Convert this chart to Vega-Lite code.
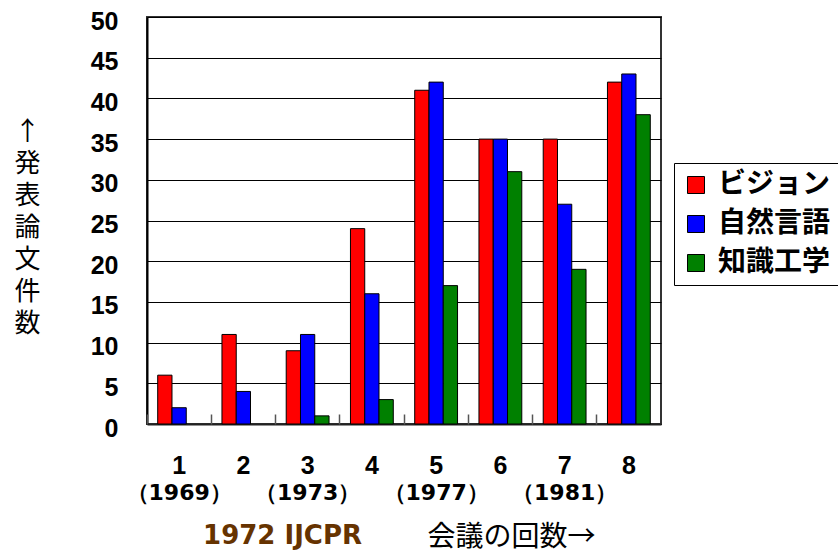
{
  "$schema": "https://vega.github.io/schema/vega-lite/v6.json",
  "width": 514,
  "height": 407,
  "autosize": {"type": "none"},
  "padding": {"left": 147, "top": 17, "right": 177, "bottom": 131},
  "background": "white",
  "config": {
    "view": {"stroke": "#333", "strokeWidth": 2},
    "axis": {"grid": false}
  },
  "data": {
    "values": [
      {"kai": 1, "series": "ビジョン", "count": 6},
      {"kai": 1, "series": "自然言語", "count": 2},
      {"kai": 2, "series": "ビジョン", "count": 11},
      {"kai": 2, "series": "自然言語", "count": 4},
      {"kai": 3, "series": "ビジョン", "count": 9},
      {"kai": 3, "series": "自然言語", "count": 11},
      {"kai": 3, "series": "知識工学", "count": 1},
      {"kai": 4, "series": "ビジョン", "count": 24},
      {"kai": 4, "series": "自然言語", "count": 16},
      {"kai": 4, "series": "知識工学", "count": 3},
      {"kai": 5, "series": "ビジョン", "count": 41},
      {"kai": 5, "series": "自然言語", "count": 42},
      {"kai": 5, "series": "知識工学", "count": 17},
      {"kai": 6, "series": "ビジョン", "count": 35},
      {"kai": 6, "series": "自然言語", "count": 35},
      {"kai": 6, "series": "知識工学", "count": 31},
      {"kai": 7, "series": "ビジョン", "count": 35},
      {"kai": 7, "series": "自然言語", "count": 27},
      {"kai": 7, "series": "知識工学", "count": 19},
      {"kai": 8, "series": "ビジョン", "count": 42},
      {"kai": 8, "series": "自然言語", "count": 43},
      {"kai": 8, "series": "知識工学", "count": 38}
    ]
  },
  "resolve": {"axis": {"x": "independent"}},
  "layer": [
    {
      "mark": {"type": "bar", "stroke": "black", "strokeWidth": 1},
      "encoding": {
        "x": {
          "field": "kai",
          "type": "ordinal",
          "scale": {"paddingInner": 0, "paddingOuter": 0},
          "axis": {
            "labelAngle": 0,
            "labelFont": "Liberation Sans",
            "labelFontWeight": "bold",
            "labelFontSize": 25,
            "labelColor": "black",
            "labelPadding": 29,
            "ticks": false,
            "domainColor": "#222",
            "domainWidth": 2,
            "grid": false,
            "title": "1972 IJCPR",
            "titleFont": "DejaVu Sans",
            "titleFontWeight": "bold",
            "titleFontSize": 26,
            "titleColor": "#663300",
            "titleX": 135,
            "titleY": 111,
            "titleBaseline": "middle",
            "titleAlign": "center"
          }
        },
        "xOffset": {
          "field": "series",
          "type": "nominal",
          "sort": ["ビジョン", "自然言語", "知識工学"],
          "scale": {"domain": ["ビジョン", "自然言語", "知識工学"], "paddingOuter": 0.75, "paddingInner": 0}
        },
        "y": {
          "field": "count",
          "type": "quantitative",
          "scale": {"domain": [0, 50], "nice": false},
          "axis": {
            "values": [0, 5, 10, 15, 20, 25, 30, 35, 40, 45, 50],
            "grid": true,
            "gridColor": "black",
            "gridWidth": 1,
            "gridOpacity": 1,
            "ticks": false,
            "domainColor": "black",
            "domainWidth": 2,
            "labelFont": "Liberation Sans",
            "labelFontWeight": "bold",
            "labelFontSize": 25,
            "labelColor": "black",
            "labelPadding": 29,
            "labelOffset": 4,
            "title": ["↑", "発", "表", "論", "文", "件", "数"],
            "titleFont": "Noto Sans CJK JP",
            "titleFontWeight": "normal",
            "titleFontSize": 26,
            "titleLineHeight": 32,
            "titleAngle": 0,
            "titleAlign": "center",
            "titleBaseline": "top",
            "titleX": -120,
            "titleY": 101,
            "titleColor": "black"
          }
        },
        "color": {
          "field": "series",
          "type": "nominal",
          "scale": {
            "domain": ["ビジョン", "自然言語", "知識工学"],
            "range": ["#FF0000", "#0000FF", "#008000"]
          },
          "legend": {
            "title": null,
            "orient": "none",
            "legendX": 527,
            "legendY": 146,
            "strokeColor": "black",
            "fillColor": "white",
            "padding": 8,
            "symbolType": "square",
            "symbolSize": 289,
            "symbolStrokeColor": "black",
            "symbolStrokeWidth": 1,
            "symbolOpacity": 1,
            "labelFont": "Noto Sans CJK JP",
            "labelFontWeight": "bold",
            "labelFontSize": 28,
            "labelColor": "black",
            "labelOffset": 8,
            "labelLimit": 300,
            "rowPadding": 11
          }
        }
      }
    },
    {
      "mark": {"type": "text"},
      "encoding": {
        "x": {
          "field": "kai",
          "type": "ordinal",
          "axis": {
            "orient": "bottom",
            "labelAngle": 0,
            "domain": false,
            "ticks": false,
            "grid": false,
            "labelExpr": "datum.label == '1' ? '（1969）' : datum.label == '3' ? '（1973）' : datum.label == '5' ? '（1977）' : datum.label == '7' ? '（1981）' : ''",
            "labelFont": "DejaVu Sans",
            "labelFontWeight": "bold",
            "labelFontSize": 22,
            "labelColor": "black",
            "labelPadding": 58,
            "title": "会議の回数→",
            "titleFont": "Noto Sans CJK JP",
            "titleFontWeight": "normal",
            "titleFontSize": 28,
            "titleColor": "black",
            "titleX": 364,
            "titleY": 113,
            "titleBaseline": "middle",
            "titleAlign": "center"
          }
        },
        "text": {"value": ""}
      }
    },
    {
      "mark": {"type": "text"},
      "encoding": {
        "x": {
          "field": "kai",
          "type": "ordinal",
          "axis": {
            "orient": "top",
            "offset": -407,
            "domain": false,
            "labels": false,
            "grid": false,
            "title": null,
            "ticks": true,
            "bandPosition": 0,
            "tickSize": 10,
            "tickColor": "#555",
            "tickWidth": 1.5,
            "tickOpacity": 1,
            "zindex": 1
          }
        },
        "text": {"value": ""}
      }
    }
  ]
}
